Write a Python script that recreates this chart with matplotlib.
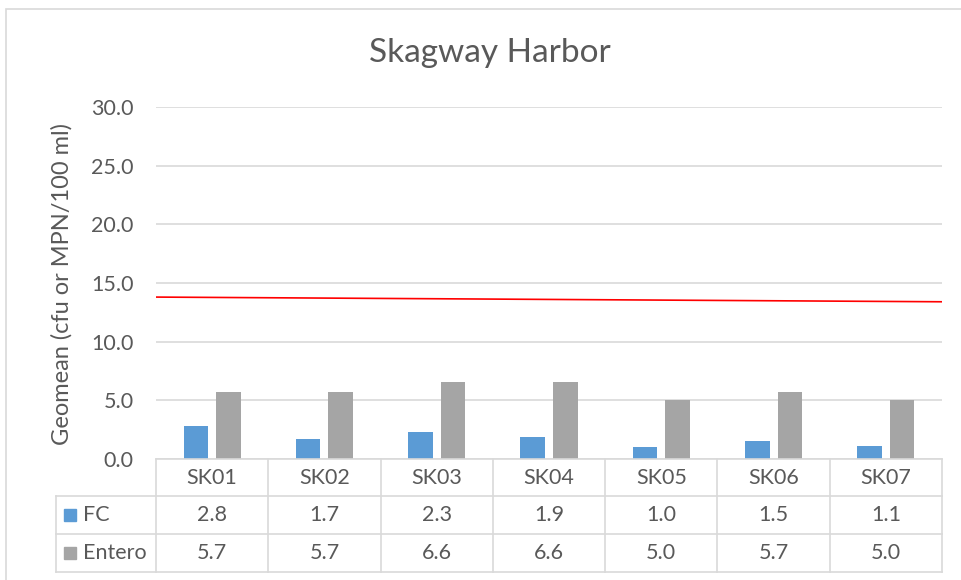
import matplotlib
matplotlib.use("Agg")
import matplotlib.pyplot as plt
from matplotlib.patches import Rectangle
from matplotlib.lines import Line2D
import numpy as np

categories = ["SK01", "SK02", "SK03", "SK04", "SK05", "SK06", "SK07"]
fc = [2.8, 1.7, 2.3, 1.9, 1.0, 1.5, 1.1]
entero = [5.7, 5.7, 6.6, 6.6, 5.0, 5.7, 5.0]
series_names = ["FC", "Entero"]
threshold = [13.8, 13.4]  # red line, start and end
yticks = [0, 5, 10, 15, 20, 25, 30]

C_FC = "#5B9BD5"
C_EN = "#A5A5A5"
TXT = "#595959"
GRID = "#D9D9D9"
FONT = "Lato"
FS = 15.5

W, H = 961, 580
fig = plt.figure(figsize=(W / 100, H / 100), dpi=100)
fig.patch.set_facecolor("white")

# outer chart border
fig.patches.append(Rectangle((6 / W, -0.1), 1.2, (H - 9) / H + 0.1, transform=fig.transFigure,
                             fill=False, edgecolor="#D9D9D9", linewidth=1.2))

L, R, T, B = 156, 942, 107, 459
ax = fig.add_axes([L / W, 1 - B / H, (R - L) / W, (B - T) / H])
n = len(categories)
x = np.arange(n)
bw = 0.22
gap = 0.035
ax.bar(x - bw / 2 - gap, fc, width=bw, color=C_FC, zorder=3)
ax.bar(x + bw / 2 + gap, entero, width=bw, color=C_EN, zorder=3)
ax.plot([-0.5, n - 0.5], threshold, color="#FF0000", linewidth=1.2, zorder=4)

ax.set_xlim(-0.5, n - 0.5)
ax.set_ylim(0, 30)
ax.set_yticks(yticks)
ax.set_yticklabels([f"{v:.1f}" for v in yticks], fontsize=FS, color=TXT, family=FONT)
ax.set_xticks([])
ax.grid(axis="y", color=GRID, linewidth=1.2, zorder=0)
for s in ax.spines.values():
    s.set_visible(False)
ax.tick_params(axis="y", length=0, pad=16)

fig.text(62 / W, 1 - 284 / H, "Geomean (cfu or MPN/100 ml)", rotation=90, ha="center", va="center",
         fontsize=17, color=TXT, family=FONT)

fig.text((369 + 611) / 2 / W, 1 - 53 / H, "Skagway Harbor", ha="center", va="center",
         fontsize=24, color=TXT, family=FONT)

# data table
def fx(px):
    return px / W

def fy(py):
    return 1 - py / H

rows_y = [459, 496, 534, 572]
tl = 56
colw = (R - L) / n
lw = 1.2
fig.add_artist(Line2D([fx(L), fx(R)], [fy(459), fy(459)], color=GRID, lw=lw))
for yy in rows_y[1:]:
    fig.add_artist(Line2D([fx(tl), fx(R)], [fy(yy), fy(yy)], color=GRID, lw=lw))
for i in range(n + 1):
    xx = L + i * colw
    fig.add_artist(Line2D([fx(xx), fx(xx)], [fy(459), fy(572)], color=GRID, lw=lw))
fig.add_artist(Line2D([fx(tl), fx(tl)], [fy(496), fy(572)], color=GRID, lw=lw))

for i, c in enumerate(categories):
    cx = L + (i + 0.5) * colw
    fig.text(fx(cx), fy((459 + 496) / 2), c, ha="center", va="center", fontsize=FS, color=TXT, family=FONT)
    fig.text(fx(cx), fy((496 + 534) / 2), f"{fc[i]:.1f}", ha="center", va="center", fontsize=FS, color=TXT, family=FONT)
    fig.text(fx(cx), fy((534 + 572) / 2), f"{entero[i]:.1f}", ha="center", va="center", fontsize=FS, color=TXT, family=FONT)

for j, (name, col) in enumerate(zip(series_names, [C_FC, C_EN])):
    yc = (rows_y[j + 1] + rows_y[j + 2]) / 2
    fig.patches.append(Rectangle((fx(64), fy(yc + 6)), 12 / W, 12 / H, transform=fig.transFigure,
                                 color=col))
    fig.text(fx(83), fy(yc), name, ha="left", va="center", fontsize=FS, color=TXT, family=FONT)

fig.savefig("out.png", dpi=100)
